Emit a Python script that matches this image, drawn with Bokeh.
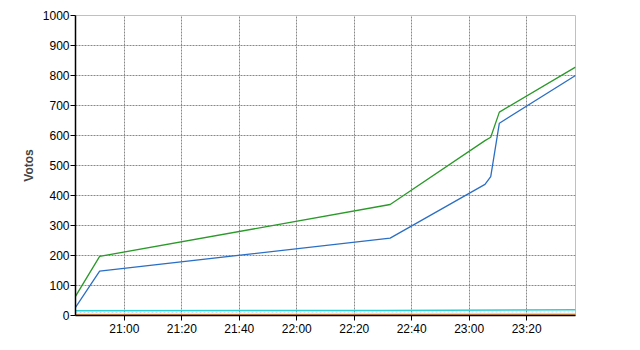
from datetime import datetime, timezone
from bokeh.plotting import figure
from bokeh.models import FixedTicker, DatetimeTickFormatter, Range1d
from bokeh.embed import file_html
from bokeh.resources import INLINE

def t(s):
    h, m = s.split(":")
    mm = float(m)
    return datetime(2011, 5, 22, int(h), int(mm), int(round((mm - int(mm)) * 60)))

blue_times = ["20:43", "20:51.4", "22:32.5", "23:05.5", "23:07.5", "23:10.5", "23:37"]
blue_votes = [27, 148, 258, 437, 463, 641, 800]
green_times = ["20:43", "20:51.4", "22:32.5", "23:05.5", "23:07.5", "23:10.5", "23:37"]
green_votes = [64, 197, 370, 583, 594, 678, 828]
cyan_times = ["20:43", "22:30", "23:37"]
cyan_votes = [16, 17, 19]
pale_times = ["20:43", "23:37"]
pale_votes = [10, 12]
orange_times = ["20:43", "23:37"]
orange_votes = [3, 4]
yellow_times = ["20:43", "23:37"]
yellow_votes = [0.5, 0.5]

x_ticks = ["21:00", "21:20", "21:40", "22:00", "22:20", "22:40", "23:00", "23:20"]
y_ticks = [0, 100, 200, 300, 400, 500, 600, 700, 800, 900, 1000]

p = figure(width=640, height=350, x_axis_type="datetime", output_backend="svg",
           toolbar_location=None,
           min_border_left=75, min_border_right=65, min_border_top=15, min_border_bottom=35)
p.x_range = Range1d(t("20:43"), t("23:37"))
p.y_range = Range1d(0, 1000)

p.line([t(s) for s in pale_times], pale_votes, color="#c8d8f0", line_width=1, line_dash="2 2")
p.line([t(s) for s in yellow_times], yellow_votes, color="#f0d020", line_width=1.5)
p.line([t(s) for s in orange_times], orange_votes, color="#f4a040", line_width=1.5)
p.line([t(s) for s in cyan_times], cyan_votes, color="#2ccfd0", line_width=1.5)
p.line([t(s) for s in blue_times], blue_votes, color="#2b6fc4", line_width=1.3)
p.line([t(s) for s in green_times], green_votes, color="#2b9a2b", line_width=1.3)

p.xaxis.ticker = FixedTicker(ticks=[t(s).replace(tzinfo=timezone.utc).timestamp() * 1000 for s in x_ticks])
p.xaxis.formatter = DatetimeTickFormatter(minutes="%H:%M", hours="%H:%M", minsec="%H:%M", hourmin="%H:%M")
p.yaxis.ticker = FixedTicker(ticks=y_ticks)
p.yaxis.axis_label = "Votos"
p.yaxis.axis_label_text_font = "Liberation Sans"
p.yaxis.axis_label_text_font_style = "bold"
p.yaxis.axis_label_text_font_size = "12px"
p.yaxis.axis_label_standoff = 4

for ax in (p.xaxis, p.yaxis):
    ax.major_label_text_font = "Liberation Sans"
    ax.major_label_text_font_size = "12px"
    ax.major_label_text_color = "black"
    ax.axis_line_color = "black"
    ax.axis_line_width = 1.5
    ax.major_tick_line_color = "black"
    ax.major_tick_out = 5
    ax.major_tick_in = 0
    ax.minor_tick_line_color = None
    ax.major_label_standoff = 1

for g in (p.xgrid, p.ygrid):
    g.grid_line_color = "#888888"
    g.grid_line_dash = "2 1"
    g.grid_line_width = 1

p.outline_line_color = "#c0c0c0"
p.background_fill_color = "white"
p.border_fill_color = "white"

open("out.html", "w").write(file_html(p, INLINE))
